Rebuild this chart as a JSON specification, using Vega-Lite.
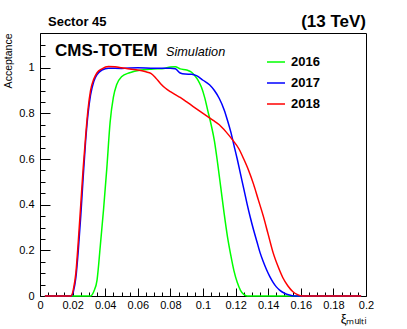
{
  "$schema": "https://vega.github.io/schema/vega-lite/v6.json",
  "width": 326,
  "height": 263,
  "autosize": "none",
  "padding": {"left": 40, "top": 33, "right": 41, "bottom": 33},
  "config": {
    "font": "Liberation Sans",
    "view": {"stroke": null},
    "axis": {"grid": false, "domain": true, "domainColor": "#000000", "domainWidth": 1, "tickColor": "#000000", "labelColor": "#000000", "titleColor": "#000000", "labelFont": "Liberation Sans", "titleFont": "Liberation Sans"}
  },
  "resolve": {"axis": {"x": "independent", "y": "independent"}},
  "layer": [
    {
      "data": {"values": [
        {"year": "2016", "xi": 0.003, "acc": 0},
        {"year": "2016", "xi": 0.031, "acc": 0},
        {"year": "2016", "xi": 0.033, "acc": 0.02},
        {"year": "2016", "xi": 0.035, "acc": 0.07},
        {"year": "2016", "xi": 0.037, "acc": 0.22},
        {"year": "2016", "xi": 0.039, "acc": 0.38},
        {"year": "2016", "xi": 0.041, "acc": 0.56},
        {"year": "2016", "xi": 0.043, "acc": 0.76},
        {"year": "2016", "xi": 0.045, "acc": 0.87},
        {"year": "2016", "xi": 0.047, "acc": 0.925},
        {"year": "2016", "xi": 0.05, "acc": 0.96},
        {"year": "2016", "xi": 0.055, "acc": 0.978},
        {"year": "2016", "xi": 0.062, "acc": 0.99},
        {"year": "2016", "xi": 0.067, "acc": 0.993},
        {"year": "2016", "xi": 0.072, "acc": 0.995},
        {"year": "2016", "xi": 0.076, "acc": 0.997},
        {"year": "2016", "xi": 0.08, "acc": 1.003},
        {"year": "2016", "xi": 0.083, "acc": 1.004},
        {"year": "2016", "xi": 0.086, "acc": 0.995},
        {"year": "2016", "xi": 0.09, "acc": 0.99},
        {"year": "2016", "xi": 0.093, "acc": 0.98},
        {"year": "2016", "xi": 0.095, "acc": 0.965},
        {"year": "2016", "xi": 0.097, "acc": 0.945},
        {"year": "2016", "xi": 0.099, "acc": 0.915},
        {"year": "2016", "xi": 0.101, "acc": 0.87},
        {"year": "2016", "xi": 0.103, "acc": 0.81},
        {"year": "2016", "xi": 0.105, "acc": 0.75},
        {"year": "2016", "xi": 0.107, "acc": 0.68},
        {"year": "2016", "xi": 0.109, "acc": 0.58},
        {"year": "2016", "xi": 0.111, "acc": 0.47},
        {"year": "2016", "xi": 0.113, "acc": 0.36},
        {"year": "2016", "xi": 0.115, "acc": 0.26},
        {"year": "2016", "xi": 0.117, "acc": 0.18},
        {"year": "2016", "xi": 0.119, "acc": 0.11},
        {"year": "2016", "xi": 0.121, "acc": 0.06},
        {"year": "2016", "xi": 0.123, "acc": 0.025},
        {"year": "2016", "xi": 0.125, "acc": 0.007},
        {"year": "2016", "xi": 0.127, "acc": 0},
        {"year": "2016", "xi": 0.197, "acc": 0},
        {"year": "2017", "xi": 0.003, "acc": 0},
        {"year": "2017", "xi": 0.019, "acc": 0},
        {"year": "2017", "xi": 0.0205, "acc": 0.02},
        {"year": "2017", "xi": 0.022, "acc": 0.08},
        {"year": "2017", "xi": 0.0235, "acc": 0.2},
        {"year": "2017", "xi": 0.025, "acc": 0.35},
        {"year": "2017", "xi": 0.0265, "acc": 0.52},
        {"year": "2017", "xi": 0.028, "acc": 0.68},
        {"year": "2017", "xi": 0.0295, "acc": 0.8},
        {"year": "2017", "xi": 0.031, "acc": 0.88},
        {"year": "2017", "xi": 0.033, "acc": 0.94},
        {"year": "2017", "xi": 0.035, "acc": 0.97},
        {"year": "2017", "xi": 0.038, "acc": 0.99},
        {"year": "2017", "xi": 0.042, "acc": 0.998},
        {"year": "2017", "xi": 0.05, "acc": 0.997},
        {"year": "2017", "xi": 0.06, "acc": 1.0},
        {"year": "2017", "xi": 0.07, "acc": 0.998},
        {"year": "2017", "xi": 0.08, "acc": 0.998},
        {"year": "2017", "xi": 0.083, "acc": 0.995},
        {"year": "2017", "xi": 0.086, "acc": 0.977},
        {"year": "2017", "xi": 0.089, "acc": 0.972},
        {"year": "2017", "xi": 0.093, "acc": 0.971},
        {"year": "2017", "xi": 0.096, "acc": 0.965},
        {"year": "2017", "xi": 0.1, "acc": 0.945},
        {"year": "2017", "xi": 0.104, "acc": 0.925},
        {"year": "2017", "xi": 0.107, "acc": 0.9},
        {"year": "2017", "xi": 0.11, "acc": 0.865},
        {"year": "2017", "xi": 0.113, "acc": 0.815},
        {"year": "2017", "xi": 0.115, "acc": 0.77},
        {"year": "2017", "xi": 0.117, "acc": 0.72},
        {"year": "2017", "xi": 0.119, "acc": 0.66},
        {"year": "2017", "xi": 0.121, "acc": 0.6},
        {"year": "2017", "xi": 0.123, "acc": 0.535},
        {"year": "2017", "xi": 0.125, "acc": 0.47},
        {"year": "2017", "xi": 0.127, "acc": 0.405},
        {"year": "2017", "xi": 0.129, "acc": 0.345},
        {"year": "2017", "xi": 0.131, "acc": 0.29},
        {"year": "2017", "xi": 0.133, "acc": 0.24},
        {"year": "2017", "xi": 0.135, "acc": 0.19},
        {"year": "2017", "xi": 0.137, "acc": 0.15},
        {"year": "2017", "xi": 0.139, "acc": 0.115},
        {"year": "2017", "xi": 0.141, "acc": 0.085},
        {"year": "2017", "xi": 0.143, "acc": 0.06},
        {"year": "2017", "xi": 0.145, "acc": 0.04},
        {"year": "2017", "xi": 0.147, "acc": 0.026},
        {"year": "2017", "xi": 0.15, "acc": 0.012},
        {"year": "2017", "xi": 0.153, "acc": 0.004},
        {"year": "2017", "xi": 0.156, "acc": 0},
        {"year": "2017", "xi": 0.197, "acc": 0},
        {"year": "2018", "xi": 0.003, "acc": 0},
        {"year": "2018", "xi": 0.019, "acc": 0},
        {"year": "2018", "xi": 0.0205, "acc": 0.03},
        {"year": "2018", "xi": 0.022, "acc": 0.1},
        {"year": "2018", "xi": 0.0235, "acc": 0.24},
        {"year": "2018", "xi": 0.025, "acc": 0.4},
        {"year": "2018", "xi": 0.0265, "acc": 0.56},
        {"year": "2018", "xi": 0.028, "acc": 0.7},
        {"year": "2018", "xi": 0.0295, "acc": 0.82},
        {"year": "2018", "xi": 0.031, "acc": 0.9},
        {"year": "2018", "xi": 0.033, "acc": 0.95},
        {"year": "2018", "xi": 0.035, "acc": 0.978},
        {"year": "2018", "xi": 0.038, "acc": 0.995},
        {"year": "2018", "xi": 0.042, "acc": 1.005},
        {"year": "2018", "xi": 0.046, "acc": 1.004},
        {"year": "2018", "xi": 0.05, "acc": 1.0},
        {"year": "2018", "xi": 0.055, "acc": 0.994},
        {"year": "2018", "xi": 0.06, "acc": 0.99},
        {"year": "2018", "xi": 0.065, "acc": 0.982},
        {"year": "2018", "xi": 0.068, "acc": 0.975},
        {"year": "2018", "xi": 0.071, "acc": 0.955},
        {"year": "2018", "xi": 0.074, "acc": 0.93},
        {"year": "2018", "xi": 0.077, "acc": 0.91},
        {"year": "2018", "xi": 0.08, "acc": 0.895},
        {"year": "2018", "xi": 0.083, "acc": 0.882},
        {"year": "2018", "xi": 0.086, "acc": 0.87},
        {"year": "2018", "xi": 0.09, "acc": 0.85},
        {"year": "2018", "xi": 0.094, "acc": 0.83},
        {"year": "2018", "xi": 0.098, "acc": 0.81},
        {"year": "2018", "xi": 0.102, "acc": 0.79},
        {"year": "2018", "xi": 0.106, "acc": 0.77},
        {"year": "2018", "xi": 0.11, "acc": 0.75},
        {"year": "2018", "xi": 0.114, "acc": 0.72},
        {"year": "2018", "xi": 0.118, "acc": 0.685},
        {"year": "2018", "xi": 0.122, "acc": 0.645},
        {"year": "2018", "xi": 0.125, "acc": 0.6},
        {"year": "2018", "xi": 0.128, "acc": 0.55},
        {"year": "2018", "xi": 0.131, "acc": 0.49},
        {"year": "2018", "xi": 0.134, "acc": 0.42},
        {"year": "2018", "xi": 0.137, "acc": 0.35},
        {"year": "2018", "xi": 0.14, "acc": 0.27},
        {"year": "2018", "xi": 0.143, "acc": 0.19},
        {"year": "2018", "xi": 0.146, "acc": 0.13},
        {"year": "2018", "xi": 0.149, "acc": 0.08},
        {"year": "2018", "xi": 0.152, "acc": 0.045},
        {"year": "2018", "xi": 0.155, "acc": 0.02},
        {"year": "2018", "xi": 0.158, "acc": 0.006},
        {"year": "2018", "xi": 0.161, "acc": 0},
        {"year": "2018", "xi": 0.197, "acc": 0}
      ]},
      "mark": {"type": "line", "strokeWidth": 1.5, "interpolate": "monotone"},
      "encoding": {
        "x": {"field": "xi", "type": "quantitative", "scale": {"domain": [0, 0.2], "nice": false, "zero": false},
          "axis": {"orient": "bottom", "values": [0, 0.02, 0.04, 0.06, 0.08, 0.1, 0.12, 0.14, 0.16, 0.18, 0.2], "format": "~g", "tickSize": -8, "labelFontSize": 11, "labelPadding": 11, "labelFlush": false,
            "title": "ξₘᵤₗₜᵢ", "titleFontSize": 13, "titleFontWeight": "normal", "titleAnchor": "end", "titlePadding": 2}},
        "y": {"field": "acc", "type": "quantitative", "scale": {"domain": [0, 1.152], "nice": false},
          "axis": {"orient": "left", "values": [0, 0.2, 0.4, 0.6, 0.8, 1], "format": "~g", "tickSize": -10, "labelFontSize": 11, "labelPadding": 16, "labelFlush": false,
            "title": "Acceptance", "titleFontSize": 10.5, "titleFontWeight": "normal", "titleAnchor": "end", "titlePadding": 5}},
        "color": {"field": "year", "type": "nominal",
          "scale": {"domain": ["2016", "2017", "2018"], "range": ["#00ff00", "#0000ff", "#ff0000"]},
          "legend": {"orient": "none", "legendX": 226, "legendY": 19, "title": null, "symbolType": "stroke", "symbolSize": 324, "symbolStrokeWidth": 1.5, "labelFontSize": 13, "labelFontWeight": "bold", "labelColor": "#000000", "labelFont": "Liberation Sans", "labelOffset": 5, "rowPadding": 4}}
      }
    },
    {
      "data": {"values": [{"xi": 0, "acc": 0}]},
      "mark": {"type": "point", "opacity": 0},
      "encoding": {
        "x": {"field": "xi", "type": "quantitative",
          "axis": {"orient": "bottom", "domain": false, "values": [0.005, 0.01, 0.015, 0.025, 0.03, 0.035, 0.045, 0.05, 0.055, 0.065, 0.07, 0.075, 0.085, 0.09, 0.095, 0.105, 0.11, 0.115, 0.125, 0.13, 0.135, 0.145, 0.15, 0.155, 0.165, 0.17, 0.175, 0.185, 0.19, 0.195], "tickSize": -4, "labels": false, "title": null}},
        "y": {"field": "acc", "type": "quantitative",
          "axis": {"orient": "left", "domain": false, "values": [0.05, 0.1, 0.15, 0.25, 0.3, 0.35, 0.45, 0.5, 0.55, 0.65, 0.7, 0.75, 0.85, 0.9, 0.95, 1.05, 1.1, 1.15], "tickSize": -5, "labels": false, "title": null}}
      }
    },
    {
      "data": {"values": [{"xi": 0, "acc": 0}]},
      "mark": {"type": "point", "opacity": 0},
      "encoding": {
        "x": {"field": "xi", "type": "quantitative",
          "axis": {"orient": "top", "domain": true, "ticks": false, "labels": false, "title": null}},
        "y": {"field": "acc", "type": "quantitative",
          "axis": {"orient": "right", "domain": true, "ticks": false, "labels": false, "title": null}}
      }
    },
    {
      "data": {"values": [
        {"label": "CMS-TOTEM", "xi": 0.0092, "acc": 1.053}
      ]},
      "mark": {"type": "text", "fontWeight": "bold", "fontSize": 17, "baseline": "alphabetic", "align": "left", "color": "#000000", "font": "Liberation Sans"},
      "encoding": {
        "x": {"field": "xi", "type": "quantitative", "axis": null},
        "y": {"field": "acc", "type": "quantitative", "axis": null},
        "text": {"field": "label"}
      }
    },
    {
      "data": {"values": [
        {"label": "(13 TeV)", "xi": 0.2, "acc": 1.18}
      ]},
      "mark": {"type": "text", "fontWeight": "bold", "fontSize": 17, "baseline": "alphabetic", "align": "right", "color": "#000000", "font": "Liberation Sans"},
      "encoding": {
        "x": {"field": "xi", "type": "quantitative", "axis": null},
        "y": {"field": "acc", "type": "quantitative", "axis": null},
        "text": {"field": "label"}
      }
    },
    {
      "data": {"values": [
        {"label": "Sector 45", "xi": 0.0049, "acc": 1.183}
      ]},
      "mark": {"type": "text", "fontWeight": "bold", "fontSize": 13, "baseline": "alphabetic", "align": "left", "color": "#000000", "font": "Liberation Sans"},
      "encoding": {
        "x": {"field": "xi", "type": "quantitative", "axis": null},
        "y": {"field": "acc", "type": "quantitative", "axis": null},
        "text": {"field": "label"}
      }
    },
    {
      "data": {"values": [
        {"label": "Simulation", "xi": 0.0773, "acc": 1.053}
      ]},
      "mark": {"type": "text", "fontStyle": "italic", "fontSize": 12.7, "baseline": "alphabetic", "align": "left", "color": "#000000", "font": "Liberation Sans"},
      "encoding": {
        "x": {"field": "xi", "type": "quantitative", "axis": null},
        "y": {"field": "acc", "type": "quantitative", "axis": null},
        "text": {"field": "label"}
      }
    }
  ]
}
